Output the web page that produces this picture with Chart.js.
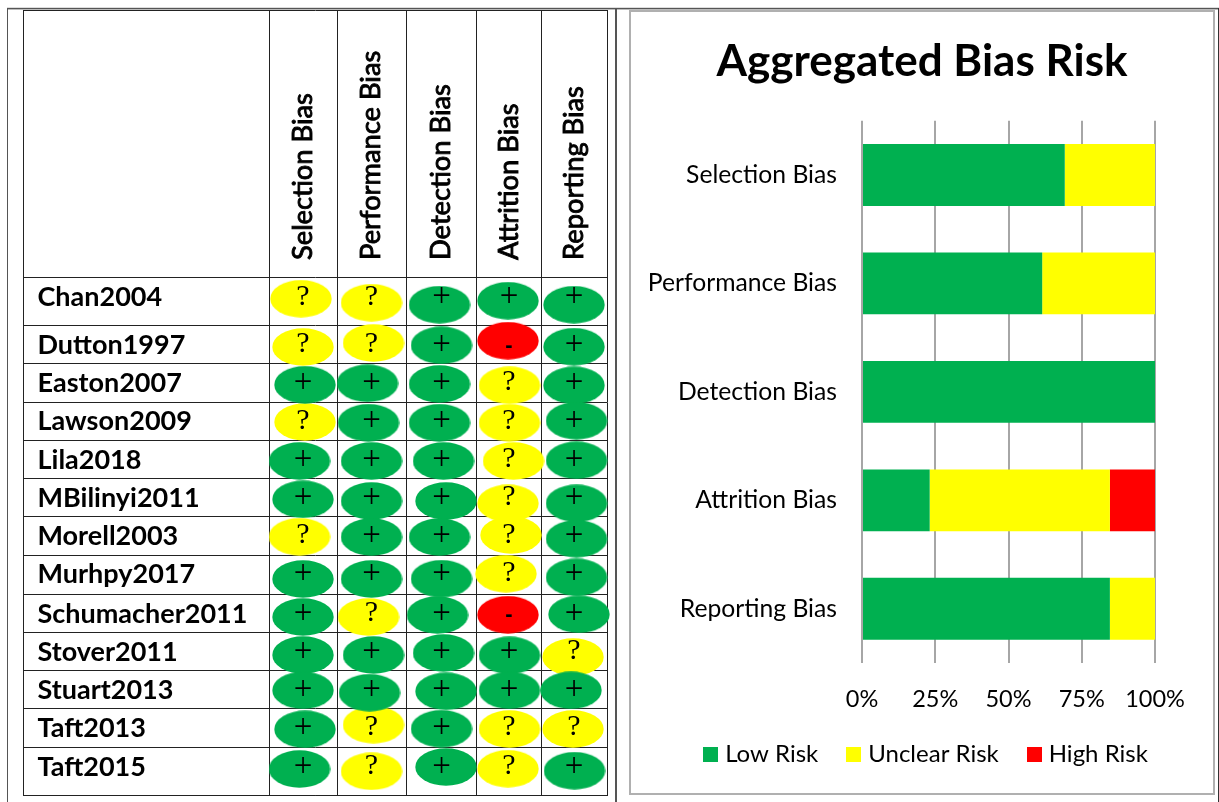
<!DOCTYPE html>
<html>
<head>
<meta charset="utf-8">
<script src="https://cdn.jsdelivr.net/npm/chart.js@4/dist/chart.umd.min.js"></script>
<style>
html,body{margin:0;padding:0;background:#fff;width:1219px;height:802px;overflow:hidden}
.rule{position:absolute}
canvas{position:absolute}
</style>
</head>
<body>
<div class="rule" style="left:7px;top:7px;width:1212px;height:1px;background:#ddd"></div>
<div class="rule" style="left:7px;top:8px;width:1212px;height:1px;background:#555"></div>
<div class="rule" style="left:7px;top:9px;width:1212px;height:1px;background:#bbb"></div>
<div class="rule" style="left:7px;top:8px;width:1px;height:794px;background:#555"></div>
<div class="rule" style="left:615px;top:8px;width:2px;height:794px;background:#555"></div>
<div class="rule" style="left:1218px;top:8px;width:1px;height:794px;background:#333"></div>
<div class="rule" style="left:629px;top:10px;width:582px;height:781px;border:2px solid #b0b0b0;box-sizing:content-box"></div>
<canvas id="matrix" width="615" height="802" style="left:0;top:0"></canvas>
<canvas id="bars" width="580" height="783" style="left:631px;top:11px"></canvas>
<script>
// ---- data ----
const studies = ['Chan2004','Dutton1997','Easton2007','Lawson2009','Lila2018','MBilinyi2011','Morell2003','Murhpy2017','Schumacher2011','Stover2011','Stuart2013','Taft2013','Taft2015'];
const biasTypes = ['Selection Bias','Performance Bias','Detection Bias','Attrition Bias','Reporting Bias'];
const selectionBias   = ['?','?','+','?','+','+','?','+','+','+','+','+','+'];
const performanceBias = ['?','?','+','+','+','+','+','+','?','+','+','?','?'];
const detectionBias   = ['+','+','+','+','+','+','+','+','+','+','+','+','+'];
const attritionBias   = ['+','-','?','?','?','?','?','?','-','+','+','?','?'];
const reportingBias   = ['+','+','+','+','+','+','+','+','+','?','+','?','+'];
const lowRisk     = [69.2, 61.5, 100, 23.1, 84.6];
const unclearRisk = [30.8, 38.5, 0, 61.5, 15.4];
const highRisk    = [0, 0, 0, 15.4, 0];
const percentTicks = [0, 25, 50, 75, 100];

// ---- layout of the table, in axis units ----
const colEdges = [0, 246.5, 314.5, 383.5, 453, 518.5, 584];
const rowEdges = [0, 267.5, 315, 353, 392, 430, 468.6, 506.6, 545, 584, 622.6, 660.6, 698.7, 737, 785];
const colCentres = [280, 348.5, 418.5, 486, 551];
const rowCentres = [286.7, 334, 372, 410.7, 449, 487, 525, 563, 603, 641.5, 679, 717, 756];
// hand-placed ovals sit a little off the cell centre in the source
const ovalDx = [[-2,0,-2,-1,0],[0,2,0,-1,0],[2,-4,-2,.5,0],[2,-3,-2,.5,2.5],[-3.5,0,2,4.5,2.5],[0,0,4.5,-1,2.5],[-3.5,0,-2,2,2.5],[0,0,0,-3,2.5],[0,-3,-4,-1,5],[0,2,2,.5,-1],[0,-2,4.5,.5,-3],[2,2,0,.5,-1],[-3.5,0,4.5,-1,.5]];
const ovalDy = [[2,6,8,4,8],[3,-1,1.3,-3.3,2.7],[2.7,1.3,2,3.3,3.3],[1.3,2,2,2,0],[2,2,2,2,1.3],[2.3,4,4,6.3,6.3],[1.7,2,2,0,3.7],[6,6,5.7,.7,4.3],[4,4,2,1.7,1.3],[3.5,3.5,1.5,3.8,5.5],[1.3,3.7,2.3,1.3,1.3],[2.3,-2.3,1.7,2,2],[3,5.3,1,2.7,4.7]];

const GREEN='#00B050', YELLOW='#FFFF00', RED='#FF0000';
const columns=[selectionBias,performanceBias,detectionBias,attritionBias,reportingBias];

function oval(color){
  const c=document.createElement('canvas');c.width=62;c.height=38;
  const g=c.getContext('2d');g.fillStyle=color;g.beginPath();g.ellipse(31,19,30.7,18.7,0,0,Math.PI*2);g.fill();return c;
}
function swatch(color){
  const c=document.createElement('canvas');c.width=15;c.height=15;
  const g=c.getContext('2d');g.fillStyle=color;g.fillRect(0,0,15,15);return c;
}
function points(mark){
  const out=[];
  columns.forEach((col,c)=>col.forEach((v,r)=>{
    if(v===mark) out.push({x:colCentres[c]+ovalDx[r][c],y:rowCentres[r]+ovalDy[r][c]});
  }));
  return out;
}
const tableText={
  id:'tableText',
  afterDatasetsDraw(chart){
    const {ctx,scales:{x,y}}=chart;
    ctx.save();
    ctx.fillStyle='#000';ctx.strokeStyle='#000';
    // study names
    ctx.textAlign='left';ctx.textBaseline='middle';ctx.font='bold 27px Lato';
    studies.forEach((s,r)=>ctx.fillText(s,37.5,y.getPixelForValue(rowCentres[r])+1));
    // rotated headers
    ctx.font='27.3px Lato';ctx.lineWidth=.9;
    biasTypes.forEach((b,c)=>{
      ctx.save();
      ctx.translate(x.getPixelForValue(colCentres[c]),260);
      ctx.rotate(-Math.PI/2);
      ctx.fillText(b,0,0);
      ctx.strokeText(b,0,0);
      ctx.restore();
    });
    // marks
    ctx.textAlign='center';
    columns.forEach((col,c)=>col.forEach((v,r)=>{
      const px=x.getPixelForValue(colCentres[c]), py=y.getPixelForValue(rowCentres[r]);
      if(v==='-'){ctx.font='bold 22px "Liberation Sans"';ctx.fillText('-',px,py+2);}
      else if(v==='+'){ctx.font='33px "Liberation Serif"';ctx.fillText(v,px,py+1);}
      else{ctx.font='30px "Liberation Serif"';ctx.fillText(v,px,py);}
    }));
    ctx.restore();
  }
};
const edgeGrid={display:true,color:'#222',lineWidth:1,drawTicks:false};
new Chart(document.getElementById('matrix'),{
  type:'scatter',
  data:{datasets:[
    {label:'Low Risk',data:points('+'),pointStyle:oval(GREEN),clip:false},
    {label:'Unclear Risk',data:points('?'),pointStyle:oval(YELLOW),clip:false},
    {label:'High Risk',data:points('-'),pointStyle:oval(RED),clip:false}
  ]},
  options:{
    responsive:false,animation:false,devicePixelRatio:1,
    layout:{padding:{left:23,top:10,right:8,bottom:7},autoPadding:false},
    plugins:{legend:{display:false},title:{display:false},tooltip:{enabled:false}},
    scales:{
      x:{type:'linear',min:0,max:584,grid:edgeGrid,border:{color:'#222'},
         ticks:{display:false,autoSkip:false},
         afterBuildTicks(s){s.ticks=colEdges.map(v=>({value:v}));}},
      y:{type:'linear',min:0,max:785,reverse:true,grid:edgeGrid,border:{color:'#222'},
         ticks:{display:false,autoSkip:false},
         afterBuildTicks(s){s.ticks=rowEdges.map(v=>({value:v}));}}
    }
  },
  plugins:[tableText]
});

const centreBlocks={
  id:'centreBlocks',
  afterLayout(chart){
    chart.titleBlock.left+=29;chart.titleBlock.right+=29;
    chart.legend.left+=35;chart.legend.right+=35;
  }
};
new Chart(document.getElementById('bars'),{
  type:'bar',
  data:{labels:biasTypes,datasets:[
    {label:'Low Risk',data:lowRisk,backgroundColor:GREEN},
    {label:'Unclear Risk',data:unclearRisk,backgroundColor:YELLOW},
    {label:'High Risk',data:highRisk,backgroundColor:RED}
  ]},
  options:{
    indexAxis:'y',responsive:false,animation:false,devicePixelRatio:1,
    datasets:{bar:{barPercentage:.57,categoryPercentage:1}},
    layout:{padding:{left:0,right:56,top:0,bottom:18}},
    plugins:{
      title:{display:true,text:'Aggregated Bias Risk',color:'#000',font:{family:'Lato',size:44,weight:'bold'},padding:{top:24,bottom:33}},
      legend:{position:'bottom',labels:{color:'#000',font:{family:'Lato',size:24},boxWidth:15,boxHeight:15,padding:33,usePointStyle:true,pointStyleWidth:5,
        generateLabels(chart){
          const items=Chart.defaults.plugins.legend.labels.generateLabels(chart);
          items.forEach(i=>{i.pointStyle=swatch(i.fillStyle);});
          return items;
        }}},
      tooltip:{enabled:false}
    },
    scales:{
      x:{stacked:true,min:0,max:100,
         grid:{color:'#a6a6a6',lineWidth:2,drawTicks:false},border:{display:false},
         afterBuildTicks(s){s.ticks=percentTicks.map(v=>({value:v}));},
         afterFit(s){s.height=46;},
         ticks:{color:'#000',font:{family:'Lato',size:23.5},padding:22,autoSkip:false,maxRotation:0,callback:v=>v+'%'}},
      y:{stacked:true,grid:{display:false},border:{display:false},
         afterFit(s){s.width=231;},
         ticks:{color:'#000',font:{family:'Lato',size:24.7},padding:17,autoSkip:false}}
    }
  },
  plugins:[centreBlocks]
});
</script>
</body>
</html>
